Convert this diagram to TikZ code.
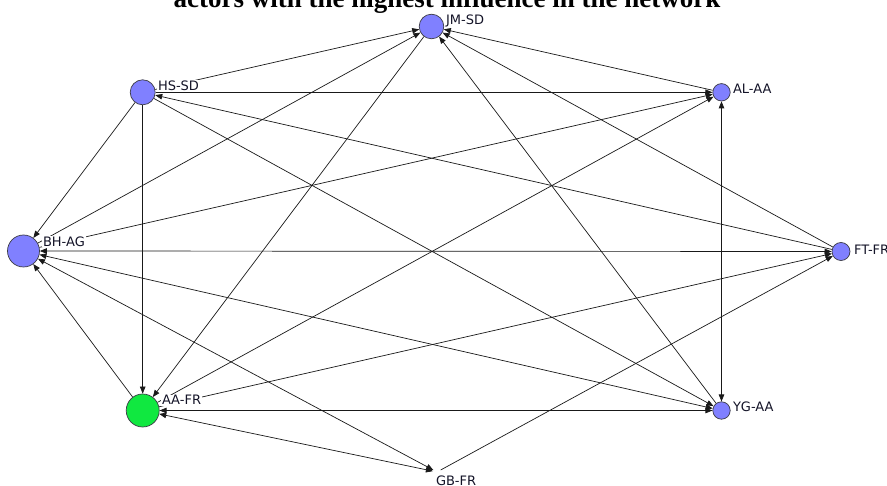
\documentclass[tikz,border=0pt]{standalone}
\usepackage{fontspec}
\setmainfont{Liberation Serif}
\newfontfamily\labfont{DejaVu Sans}
\usetikzlibrary{arrows.meta}
\definecolor{nodeblue}{RGB}{128,128,255}
\definecolor{nodegreen}{RGB}{16,232,64}
\definecolor{nodeborder}{RGB}{60,60,70}
\definecolor{edgecol}{RGB}{25,25,25}
\definecolor{labcol}{RGB}{20,20,40}
\begin{document}
\begin{tikzpicture}[x=1pt,y=-1pt,
  actor/.style={circle, draw=nodeborder, line width=0.7pt, fill=nodeblue, inner sep=0pt},
  lab/.style={anchor=base west, fill=white, inner sep=0.8pt, text=labcol,
    font=\labfont\fontsize{13}{13}\selectfont},
  link/.style={draw=edgecol, line width=0.7pt, -{Triangle[length=7pt,width=5.5pt]}},
  blink/.style={draw=edgecol, line width=0.7pt, {Triangle[length=7pt,width=5.5pt]}-{Triangle[length=7pt,width=5.5pt]}}]
\useasboundingbox (0,0) rectangle (887,486);
\fill[white] (0,0) rectangle (887,486);
% title (partly cut off at top)
\node[font=\bfseries\fontsize{27}{27}\selectfont, anchor=base, inner sep=0pt] (title) at (447,8) {actors with the highest influence in the network};
% actors
\node[actor, minimum size=24.6pt] (JM) at (431.5,26.5) {};
\node[actor, minimum size=25pt] (HS) at (142.7,92.3) {};
\node[actor, minimum size=17.4pt] (AL) at (721.5,92.3) {};
\node[actor, minimum size=32pt] (BH) at (23.5,251) {};
\node[actor, minimum size=18pt] (FT) at (841,251.5) {};
\node[actor, fill=nodegreen, minimum size=33pt] (AA) at (142.7,410.5) {};
\node[actor, minimum size=17.4pt] (YG) at (721.5,410.5) {};
\node[circle, inner sep=0pt, minimum size=8pt] (GB) at (437,472) {};
% ties
\draw[link] (HS) -- (JM);
\draw[link] (HS) -- (AL);
\draw[link] (HS) -- (BH);
\draw[link] (HS) -- (AA);
\draw[link] (HS) -- (YG);
\draw[link] (FT) -- (HS);
\draw[link] (BH) -- (JM);
\draw[link] (JM) -- (AA);
\draw[link] (YG) -- (JM);
\draw[link] (AL) -- (JM);
\draw[link] (FT) -- (JM);
\draw[link] (BH) -- (AL);
\draw[link] (AA) -- (AL);
\draw[blink] (AL) -- (YG);
\draw[blink] (BH) -- (FT);
\draw[blink] (YG) -- (BH);
\draw[blink] (GB) -- (BH);
\draw[link] (AA) -- (BH);
\draw[blink] (AA) -- (YG);
\draw[blink] (AA) -- (GB);
\draw[link] (AA) -- (FT);
\draw[link] (GB) -- (FT);
% labels
\node[lab] (JMl) at (445,25) {JM-SD};
\node[lab] (HSl) at (157,90.5) {HS-SD};
\node[lab] (ALl) at (732,94) {AL-AA};
\node[lab] (BHl) at (42,246.5) {BH-AG};
\node[lab] (FTl) at (853,255) {FT-FR};
\node[lab] (AAl) at (161,405) {AA-FR};
\node[lab] (YGl) at (732,411.5) {YG-AA};
\node[lab] (GBl) at (435,485.5) {GB-FR};
\end{tikzpicture}
\end{document}
